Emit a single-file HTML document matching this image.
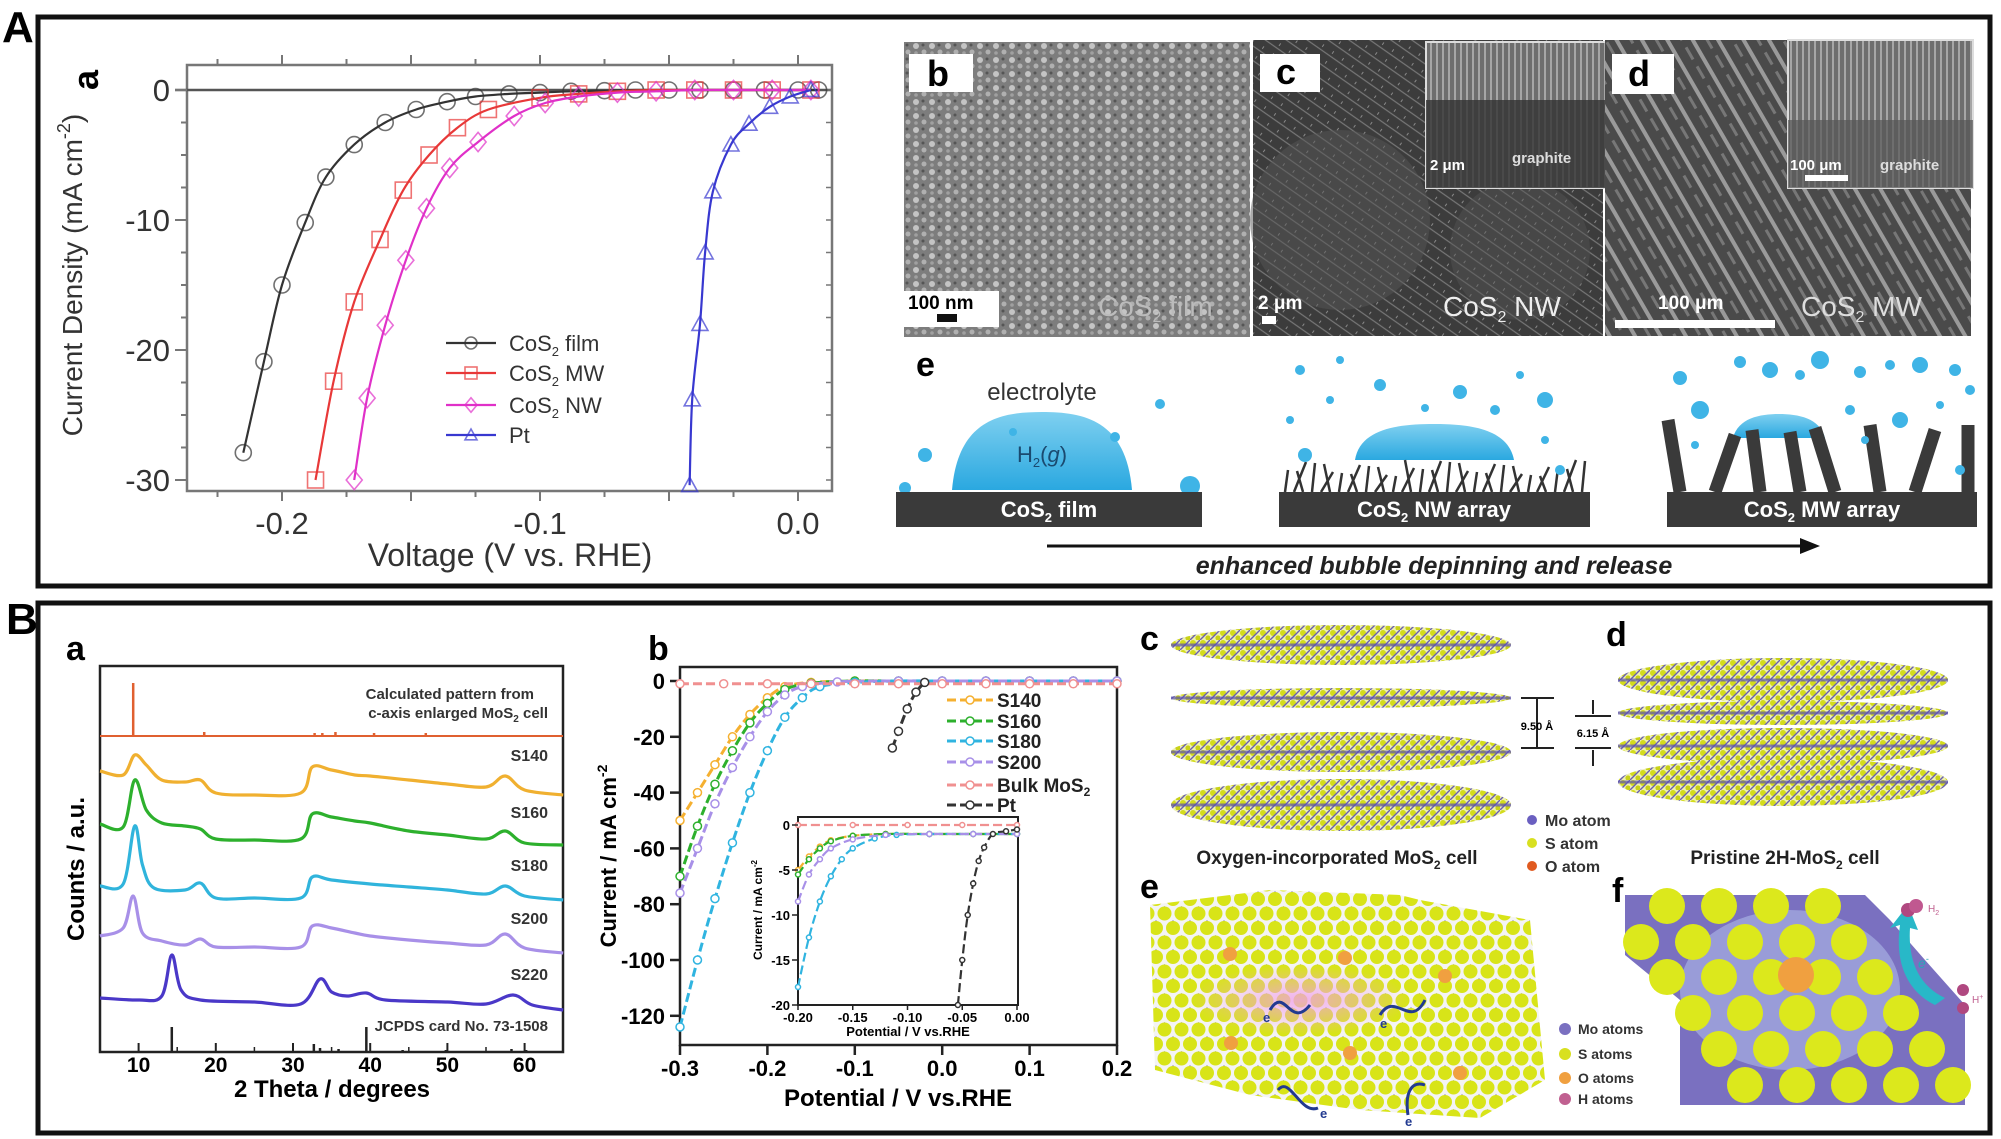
<!DOCTYPE html>
<html><head><meta charset="utf-8"><style>
html,body{margin:0;padding:0;background:#fff;}
svg{display:block;font-family:"Liberation Sans",Arial,sans-serif;}
</style></head><body>
<svg id="fig" xmlns="http://www.w3.org/2000/svg" width="2001" height="1139" viewBox="0 0 2001 1139">
<defs>
<pattern id="semB" width="16" height="14" patternUnits="userSpaceOnUse"><rect width="16" height="14" fill="#7d7d7d"/><circle cx="4" cy="4" r="3" fill="#c4c4c4"/><circle cx="12" cy="10" r="2.5" fill="#b0b0b0"/><circle cx="11" cy="3" r="1.5" fill="#555"/><circle cx="4" cy="11" r="1.8" fill="#a0a0a0"/></pattern>
<pattern id="semC" width="12" height="12" patternUnits="userSpaceOnUse" patternTransform="rotate(35)"><rect width="12" height="12" fill="#3c3c3c"/><line x1="0" y1="3" x2="12" y2="3" stroke="#777" stroke-width="1.2"/><line x1="6" y1="9" x2="6" y2="12" stroke="#8a8a8a" stroke-width="1"/></pattern>
<pattern id="semD" width="22" height="22" patternUnits="userSpaceOnUse" patternTransform="rotate(60)"><rect width="22" height="22" fill="#4a4a4a"/><rect x="0" y="4" width="22" height="4" fill="#9a9a9a"/><rect x="4" y="14" width="14" height="3" fill="#777"/></pattern>
<pattern id="semIn" width="6" height="30" patternUnits="userSpaceOnUse"><rect width="6" height="30" fill="#6e6e6e"/><line x1="3" y1="0" x2="3" y2="30" stroke="#b8b8b8" stroke-width="1.5"/></pattern>
<pattern id="mosL" width="10" height="10" patternUnits="userSpaceOnUse"><rect width="10" height="10" fill="#eef0b0"/><circle cx="3" cy="3" r="3" fill="#d4dc1c"/><circle cx="8" cy="8" r="2.6" fill="#c9d218"/><line x1="0" y1="10" x2="10" y2="0" stroke="#6a5fb0" stroke-width="1.4"/></pattern>
<pattern id="hexE" width="17" height="29" patternUnits="userSpaceOnUse"><rect width="17" height="29" fill="#f4f4f4"/><path d="M8.5 7 L2 14 L15 14Z" fill="#8a80a8"/><path d="M0 21 L6 28 L-6 28Z M17 21 L23 28 L11 28Z" fill="#8a80a8"/><circle cx="0" cy="0" r="7" fill="#d8e418"/><circle cx="17" cy="0" r="7" fill="#d8e418"/><circle cx="8.5" cy="14.5" r="7" fill="#d8e418"/><circle cx="0" cy="29" r="7" fill="#d8e418"/><circle cx="17" cy="29" r="7" fill="#d8e418"/></pattern>
<radialGradient id="pinkGlow"><stop offset="0" stop-color="#f0a0e8" stop-opacity="0.8"/><stop offset="1" stop-color="#f0a0e8" stop-opacity="0"/></radialGradient>
<linearGradient id="drop" x1="0" y1="0" x2="0" y2="1"><stop offset="0" stop-color="#7fd0f0"/><stop offset="1" stop-color="#2aa8e0"/></linearGradient>
</defs>

<!-- panel frames -->
<text x="2" y="42" font-size="44" font-weight="bold">A</text>
<rect x="38" y="17" width="1952" height="569" fill="none" stroke="#111" stroke-width="5"/>
<text x="6" y="634" font-size="44" font-weight="bold">B</text>
<rect x="38" y="603" width="1952" height="530" fill="none" stroke="#111" stroke-width="5"/>

<!-- A-a chart -->
<g id="chartAa">
<text x="76" y="92" font-size="36" font-weight="bold" transform="rotate(-90 86 80)">a</text>
<rect x="187" y="65" width="645" height="426" fill="none" stroke="#777" stroke-width="2.5"/>
<line x1="175" y1="90" x2="832" y2="90" stroke="#555" stroke-width="2.5"/>
<text x="0" y="0" font-size="28" fill="#333" text-anchor="middle" transform="translate(82 275) rotate(-90)">Current Density (mA cm<tspan font-size="18" dy="-12">-2</tspan><tspan dy="12">)</tspan></text>
<text x="510" y="566" font-size="32" fill="#333" text-anchor="middle">Voltage (V vs. RHE)</text>
</g>

<!-- A b-d SEM images -->
<g>
<rect x="904" y="42" width="346" height="295" fill="url(#semB)"/>
<rect x="909" y="54" width="64" height="38" fill="#fff"/>
<text x="927" y="86" font-size="36" font-weight="bold">b</text>
<rect x="904" y="291" width="95" height="36" fill="#fff"/>
<text x="908" y="309" font-size="19" font-weight="bold">100 nm</text>
<rect x="937" y="314" width="20" height="8" fill="#111"/>
<text x="1098" y="316" font-size="28" fill="#bbb">CoS<tspan font-size="16" dy="6">2</tspan><tspan dy="-6"> film</tspan></text>

<rect x="1253" y="40" width="350" height="296" fill="url(#semC)"/>
<circle cx="1340" cy="220" r="90" fill="#555" opacity="0.5"/>
<circle cx="1520" cy="250" r="70" fill="#555" opacity="0.45"/>
<rect x="1426" y="42" width="198" height="146" fill="url(#semIn)" stroke="#ddd" stroke-width="2"/>
<rect x="1426" y="100" width="198" height="88" fill="#333" opacity="0.8"/>
<text x="1430" y="170" font-size="15" font-weight="bold" fill="#fff">2 μm</text>
<text x="1512" y="163" font-size="15" font-weight="bold" fill="#ddd">graphite</text>
<rect x="1260" y="54" width="60" height="38" fill="#fff"/>
<text x="1276" y="84" font-size="36" font-weight="bold">c</text>
<text x="1258" y="309" font-size="19" font-weight="bold" fill="#fff">2 μm</text>
<rect x="1262" y="316" width="14" height="8" fill="#fff"/>
<text x="1443" y="316" font-size="28" fill="#eee">CoS<tspan font-size="16" dy="6">2</tspan><tspan dy="-6"> NW</tspan></text>

<rect x="1605" y="40" width="366" height="296" fill="url(#semD)"/>
<rect x="1788" y="40" width="185" height="148" fill="url(#semIn)" stroke="#ddd" stroke-width="2"/>
<rect x="1788" y="120" width="185" height="68" fill="#555" opacity="0.7"/>
<text x="1790" y="170" font-size="15" font-weight="bold" fill="#fff">100 μm</text>
<text x="1880" y="170" font-size="15" font-weight="bold" fill="#ddd">graphite</text>
<rect x="1805" y="175" width="43" height="6" fill="#fff"/>
<rect x="1612" y="54" width="62" height="40" fill="#fff"/>
<text x="1628" y="86" font-size="36" font-weight="bold">d</text>
<text x="1658" y="309" font-size="19" font-weight="bold" fill="#fff">100 μm</text>
<rect x="1615" y="320" width="160" height="8" fill="#fff"/>
<text x="1801" y="316" font-size="28" fill="#ddd">CoS<tspan font-size="16" dy="6">2</tspan><tspan dy="-6"> MW</tspan></text>
</g>

<!-- A e schematic -->
<g id="schem">
<text x="916" y="376" font-size="34" font-weight="bold">e</text>
<text x="1042" y="400" font-size="24" fill="#333" text-anchor="middle">electrolyte</text>
<path d="M952 490 C958 420 1000 412 1042 412 C1084 412 1126 420 1132 490 Z" fill="url(#drop)"/>
<text x="1042" y="462" font-size="22" fill="#1a4a70" text-anchor="middle">H<tspan font-size="13" dy="5">2</tspan><tspan dy="-5">(</tspan><tspan font-style="italic">g</tspan>)</text>
<path d="M1355 460 C1360 428 1400 424 1434 424 C1468 424 1508 428 1514 460 Z" fill="url(#drop)"/>
<path d="M1733 438 C1738 418 1760 414 1779 414 C1798 414 1820 418 1825 438 Z" fill="url(#drop)"/>
<g id="nwWires" stroke="#333" stroke-width="2.5"></g>
<g id="mwRods" stroke="#3a3a3a" stroke-width="13"></g>
<g id="bubbles" fill="#3fb4e6"></g>
<rect x="896" y="492" width="306" height="35" fill="#3a3a3a"/>
<text x="1049" y="517" font-size="22" font-weight="bold" fill="#fff" text-anchor="middle">CoS<tspan font-size="13" dy="5">2</tspan><tspan dy="-5"> film</tspan></text>
<rect x="1279" y="492" width="311" height="35" fill="#3a3a3a"/>
<text x="1434" y="517" font-size="22" font-weight="bold" fill="#fff" text-anchor="middle">CoS<tspan font-size="13" dy="5">2</tspan><tspan dy="-5"> NW array</tspan></text>
<rect x="1667" y="492" width="310" height="35" fill="#3a3a3a"/>
<text x="1822" y="517" font-size="22" font-weight="bold" fill="#fff" text-anchor="middle">CoS<tspan font-size="13" dy="5">2</tspan><tspan dy="-5"> MW array</tspan></text>
<line x1="1047" y1="546" x2="1805" y2="546" stroke="#111" stroke-width="3"/>
<path d="M1820 546 L1800 538 L1800 554 Z" fill="#111"/>
<text x="1434" y="574" font-size="25" font-weight="bold" font-style="italic" fill="#222" text-anchor="middle">enhanced bubble depinning and release</text>
</g>

<!-- B-a XRD -->
<g id="chartBa">
<text x="66" y="660" font-size="34" font-weight="bold">a</text>
<rect x="100" y="666" width="463" height="386" fill="none" stroke="#222" stroke-width="2.5"/>
<text x="0" y="0" font-size="24" font-weight="bold" text-anchor="middle" transform="translate(84 869) rotate(-90)">Counts / a.u.</text>
<text x="332" y="1097" font-size="24" font-weight="bold" text-anchor="middle">2 Theta / degrees</text>
<text x="534" y="699" font-size="15" font-weight="bold" fill="#333" text-anchor="end">Calculated pattern from</text>
<text x="548" y="718" font-size="15" font-weight="bold" fill="#333" text-anchor="end">c-axis enlarged MoS<tspan font-size="10" dy="4">2</tspan><tspan dy="-4"> cell</tspan></text>
<text x="548" y="1031" font-size="15" font-weight="bold" fill="#333" text-anchor="end">JCPDS card No. 73-1508</text>
</g>

<!-- B-b LSV -->
<g id="chartBb">
<text x="648" y="660" font-size="34" font-weight="bold">b</text>
<rect x="680" y="667" width="437" height="378" fill="none" stroke="#222" stroke-width="2.5"/>
<text x="0" y="0" font-size="22" font-weight="bold" text-anchor="middle" transform="translate(616 856) rotate(-90)">Current / mA cm<tspan font-size="14" dy="-9">-2</tspan></text>
<text x="898" y="1106" font-size="24" font-weight="bold" text-anchor="middle">Potential / V vs.RHE</text>
<rect x="798" y="817" width="220" height="188" fill="#fff" stroke="#222" stroke-width="2"/>
<text x="0" y="0" font-size="12" font-weight="bold" text-anchor="middle" transform="translate(762 910) rotate(-90)">Current / mA cm<tspan font-size="8" dy="-5">-2</tspan></text>
<text x="908" y="1036" font-size="13" font-weight="bold" text-anchor="middle">Potential / V vs.RHE</text>
</g>

<!-- B c-f structures -->
<g id="struct">
<text x="1140" y="650" font-size="34" font-weight="bold">c</text>
<text x="1606" y="646" font-size="34" font-weight="bold">d</text>
<text x="1140" y="898" font-size="34" font-weight="bold">e</text>
<text x="1612" y="902" font-size="34" font-weight="bold">f</text>
<g id="layersC"></g>
<g id="layersD"></g>
<g stroke="#222" stroke-width="2">
<line x1="1521" y1="698" x2="1554" y2="698"/><line x1="1521" y1="748" x2="1554" y2="748"/><line x1="1537" y1="698" x2="1537" y2="748"/>
<line x1="1575" y1="716" x2="1611" y2="716"/><line x1="1575" y1="748" x2="1611" y2="748"/><line x1="1593" y1="700" x2="1593" y2="714"/><line x1="1593" y1="750" x2="1593" y2="766"/>
</g>
<text x="1537" y="730" font-size="11" font-weight="bold" text-anchor="middle">9.50 Å</text>
<text x="1593" y="737" font-size="11" font-weight="bold" text-anchor="middle">6.15 Å</text>
<circle cx="1532" cy="820" r="5" fill="#6a5fc0"/>
<text x="1545" y="826" font-size="16" font-weight="bold" fill="#333">Mo atom</text>
<circle cx="1532" cy="843" r="5" fill="#d8e020"/>
<text x="1545" y="849" font-size="16" font-weight="bold" fill="#333">S atom</text>
<circle cx="1532" cy="866" r="5" fill="#e05a20"/>
<text x="1545" y="872" font-size="16" font-weight="bold" fill="#333">O atom</text>
<text x="1337" y="864" font-size="19" font-weight="bold" fill="#222" text-anchor="middle">Oxygen-incorporated MoS<tspan font-size="12" dy="5">2</tspan><tspan dy="-5"> cell</tspan></text>
<text x="1785" y="864" font-size="19" font-weight="bold" fill="#222" text-anchor="middle">Pristine 2H-MoS<tspan font-size="12" dy="5">2</tspan><tspan dy="-5"> cell</tspan></text>
<path d="M1150 905 L1270 890 L1400 895 L1420 900 L1530 920 L1545 1080 L1480 1118 L1360 1110 L1250 1095 L1155 1070 Z" fill="url(#hexE)"/>
<ellipse cx="1300" cy="1000" rx="110" ry="35" fill="url(#pinkGlow)"/>
<g fill="#f0a040"><circle cx="1230" cy="954" r="7"/><circle cx="1345" cy="958" r="7"/><circle cx="1445" cy="976" r="7"/><circle cx="1231" cy="1043" r="7"/><circle cx="1350" cy="1053" r="7"/><circle cx="1460" cy="1073" r="7"/></g>
<g fill="none" stroke="#223a90" stroke-width="3"><path d="M1270 1010 C1285 985 1290 1030 1310 1005"/><path d="M1380 1015 C1395 990 1410 1030 1425 1000"/><path d="M1278 1090 C1290 1075 1300 1115 1318 1108"/><path d="M1408 1115 C1405 1095 1410 1080 1425 1085"/></g>
<g font-size="13" font-weight="bold" fill="#223a90"><text x="1263" y="1022">e</text><text x="1380" y="1028">e</text><text x="1320" y="1118">e</text><text x="1405" y="1126">e</text></g>
<circle cx="1565" cy="1029" r="6" fill="#7a70c0"/>
<text x="1578" y="1034" font-size="14" font-weight="bold" fill="#333">Mo atoms</text>
<circle cx="1565" cy="1054" r="6" fill="#d8e020"/>
<text x="1578" y="1059" font-size="14" font-weight="bold" fill="#333">S atoms</text>
<circle cx="1565" cy="1078" r="6" fill="#f0a040"/>
<text x="1578" y="1083" font-size="14" font-weight="bold" fill="#333">O atoms</text>
<circle cx="1565" cy="1099" r="6" fill="#c06090"/>
<text x="1578" y="1104" font-size="14" font-weight="bold" fill="#333">H atoms</text>
<g id="latticeF"></g>
<path d="M1935 1005 C1905 990 1895 960 1900 925 L1890 928 L1908 905 L1918 930 L1910 928 C1908 960 1918 985 1945 998 Z" fill="#28b8c8"/>
<text x="1918" y="968" font-size="14" fill="#28a8b8" font-style="italic">e<tspan font-size="9" dy="-6">-</tspan></text>
<circle cx="1908" cy="910" r="7" fill="#b04880"/><circle cx="1916" cy="906" r="7" fill="#c05890"/>
<text x="1928" y="912" font-size="10" fill="#c06090">H<tspan font-size="7" dy="3">2</tspan></text>
<circle cx="1963" cy="990" r="6" fill="#b04880"/><circle cx="1963" cy="1008" r="6" fill="#b04880"/>
<text x="1972" y="1003" font-size="10" fill="#c06090">H<tspan font-size="7" dy="-4">+</tspan></text>
</g>
</svg>
<script>
const NS='http://www.w3.org/2000/svg';
function mk(parent,tag,attrs){const e=document.createElementNS(NS,tag);for(const k in attrs)e.setAttribute(k,attrs[k]);parent.appendChild(e);return e;}
function smooth(pts){let d='M'+pts[0][0].toFixed(1)+' '+pts[0][1].toFixed(1);for(let i=0;i<pts.length-1;i++){const p0=pts[i-1]||pts[i],p1=pts[i],p2=pts[i+1],p3=pts[i+2]||p2;const c1=[p1[0]+(p2[0]-p0[0])/6,p1[1]+(p2[1]-p0[1])/6],c2=[p2[0]-(p3[0]-p1[0])/6,p2[1]-(p3[1]-p1[1])/6];d+=' C'+c1[0].toFixed(1)+' '+c1[1].toFixed(1)+' '+c2[0].toFixed(1)+' '+c2[1].toFixed(1)+' '+p2[0].toFixed(1)+' '+p2[1].toFixed(1);}return d;}

/* ===== A-a data ===== */
const aFilmV=[-0.215,-0.207,-0.2,-0.191,-0.183,-0.172,-0.16,-0.148,-0.136,-0.125,-0.112,-0.1,-0.088,-0.075,-0.063,-0.05,-0.038,-0.025,-0.013,0.0,0.008];
const aFilmJ=[-27.9,-20.9,-15,-10.2,-6.7,-4.2,-2.5,-1.5,-0.9,-0.5,-0.3,-0.2,-0.1,-0.05,0,0,0,0,0,0,0];
const aMwV=[-0.187,-0.18,-0.172,-0.162,-0.153,-0.143,-0.132,-0.12,-0.1,-0.085,-0.07,-0.055,-0.04,-0.025,-0.01,0.005];
const aMwJ=[-30,-22.4,-16.3,-11.5,-7.7,-5,-2.9,-1.5,-0.6,-0.3,-0.1,0,0,0,0,0];
const aNwV=[-0.172,-0.167,-0.16,-0.152,-0.144,-0.135,-0.124,-0.11,-0.098,-0.085,-0.07,-0.055,-0.04,-0.025,-0.01,0.005];
const aNwJ=[-30,-23.7,-18.1,-13.1,-9.1,-6,-4,-2,-1,-0.5,-0.2,-0.1,0,0,0,0];
const aPtV=[-0.042,-0.041,-0.038,-0.036,-0.033,-0.026,-0.019,-0.011,-0.003,0.005];
const aPtJ=[-30.4,-23.8,-18,-12.5,-7.8,-4.2,-2.6,-1.3,-0.5,0];
const aXTicks=[-0.2,-0.1,0.0];
const aXTickLabels=['-0.2','-0.1','0.0'];
const aYTicks=[0,-10,-20,-30];
const aYTickLabels=['0','-10','-20','-30'];
const aSeriesNames=['CoS2 film','CoS2 MW','CoS2 NW','Pt'];

/* ===== B-a XRD data ===== */
const calcPos=[9.3,18.5,27.5,32.8,33.8,35.5,37.5,40.5,47.2,55,59];
const calcInt=[53,4,1,3,3,4,1,3,3,1,1];
const s140T=[5,8,9.5,11,13,16,18,20,25,31,32.5,35,38,40,45,50,55,57.5,60,65];
const s140I=[24,20,40,30,15,13,15,2,0,2,28,25,20,19,15,11,8,19,5,0];
const s160T=[5,8,9.5,11,13,16,18,20,25,31,32.5,35,38,40,45,50,55,57.5,60,65];
const s160I=[21,18,65,35,22,19,16,6,5,6,31,28,24,22,14,10,6,14,2,0];
const s180T=[5,8,9.5,10.5,12,16,18,20,25,31,32.5,35,40,45,50,55,57.5,60,65];
const s180I=[14,16,74,35,12,10,17,2,2,2,23,20,16,13,10,6,14,4,0];
const s200T=[5,8,9.3,10.5,13,16,18,20,25,31,32.5,35,38,40,45,50,55,57.5,60,65];
const s200I=[17,25,57,20,12,8,14,6,6,6,27,25,20,17,13,10,8,19,5,0];
const s220T=[5,10,13,14.3,15.5,18,25,31,33.5,35,37,39.5,42,50,55,58.5,61,65];
const s220I=[12,10,14,55,20,10,8,6,31,18,14,17,10,8,6,15,5,0];
const jcpdsPos=[14.3,32.7,33.5,35.9,39.5,44.2,49.8,58.3,60.2];
const jcpdsInt=[25,8,4,3,25,2,2,3,2];
const xrdTicks=[10,20,30,40,50,60];
const xrdNames=['S140','S160','S180','S200','S220'];

/* ===== B-b LSV data ===== */
const bS140V=[-0.3,-0.28,-0.26,-0.24,-0.22,-0.2,-0.18,-0.15,-0.1,-0.05,0,0.05,0.1,0.15,0.2];
const bS140J=[-50,-40,-30,-20,-12,-6,-2,-0.5,0,0,0,0,0,0,0];
const bS160V=[-0.3,-0.28,-0.26,-0.24,-0.22,-0.2,-0.18,-0.15,-0.1,-0.05,0,0.05,0.1,0.15,0.2];
const bS160J=[-70,-52,-37,-25,-15,-8,-3,-0.8,0,0,0,0,0,0,0];
const bS180V=[-0.3,-0.28,-0.26,-0.24,-0.22,-0.2,-0.18,-0.16,-0.14,-0.1,-0.05,0,0.05,0.1,0.15,0.2];
const bS180J=[-124,-100,-78,-58,-40,-25,-13,-6,-2,-0.5,0,0,0,0,0,0];
const bS200V=[-0.3,-0.28,-0.26,-0.24,-0.22,-0.2,-0.18,-0.16,-0.12,-0.05,0,0.05,0.1,0.15,0.2];
const bS200J=[-76,-60,-44,-31,-20,-11,-5,-2,-0.3,0,0,0,0,0,0];
const bBulkV=[-0.3,-0.25,-0.2,-0.15,-0.1,-0.05,0,0.05,0.1,0.15,0.2];
const bBulkJ=[-1,-1,-1,-1,-1,-1,-1,-1,-1,-1,-1];
const bPtV=[-0.057,-0.05,-0.04,-0.03,-0.02];
const bPtJ=[-24,-18,-10,-4,-0.5];
const bXTicks=[-0.3,-0.2,-0.1,0.0,0.1,0.2];
const bXTickLabels=['-0.3','-0.2','-0.1','0.0','0.1','0.2'];
const bYTicks=[0,-20,-40,-60,-80,-100,-120];
const bNames=['S140','S160','S180','S200','Bulk MoS2','Pt'];
/* inset */
const iS140V=[-0.2,-0.19,-0.18,-0.17,-0.15,-0.12,-0.08,-0.04,0];
const iS140J=[-5,-3.5,-2.4,-1.7,-1.2,-1,-1,-1,-1];
const iS160V=[-0.2,-0.19,-0.18,-0.17,-0.15,-0.12,-0.08,-0.04,0];
const iS160J=[-5.5,-3.8,-2.6,-1.8,-1.2,-1,-1,-1,-1];
const iS180V=[-0.2,-0.19,-0.18,-0.17,-0.16,-0.15,-0.13,-0.11,-0.08,-0.04,0];
const iS180J=[-18,-12.5,-8.5,-5.7,-3.8,-2.6,-1.5,-1.1,-1,-1,-1];
const iS200V=[-0.2,-0.19,-0.18,-0.17,-0.15,-0.12,-0.08,-0.04,0];
const iS200J=[-8.5,-5.5,-3.8,-2.6,-1.6,-1.1,-1,-1,-1];
const iBulkV=[-0.2,-0.15,-0.1,-0.05,0];
const iBulkJ=[0,0,0,0,0];
const iPtV=[-0.054,-0.05,-0.045,-0.04,-0.035,-0.03,-0.022,-0.01,0];
const iPtJ=[-20,-15,-10,-6.5,-4,-2.5,-1,-0.7,-0.5];
const iXTicks=[-0.2,-0.15,-0.1,-0.05,0];
const iXTickLabels=['-0.20','-0.15','-0.10','-0.05','0.00'];
const iYTicks=[0,-5,-10,-15,-20];

/* ---------- A-a ---------- */
(function(){
const g=document.getElementById('chartAa');
const sx=v=>798+v*2580, sy=j=>90-j*13;
for(let v=-0.25;v<=0.01;v+=0.025){const X=sx(v);if(X<187||X>832)continue;const major=Math.abs(Math.round(v*20)-v*20)<1e-6;
 const t=mk(g,'line',{x1:X,y1:65,x2:X,y2:major?55:59,stroke:'#777','stroke-width':2});
 
 
 const b=mk(g,'line',{x1:X,y1:491,x2:X,y2:major?501:497,stroke:'#777','stroke-width':2});
 
 }
for(let j=0;j>=-32.5;j-=2.5){const Y=sy(j);if(Y>491)continue;
 const t=mk(g,'line',{x1:187,y1:Y,x2:j%10===0?175:181,y2:Y,stroke:'#777','stroke-width':2});
 
 
 const r=mk(g,'line',{x1:832,y1:Y,x2:826,y2:Y,stroke:'#777','stroke-width':1.5});
 
 }
aXTicks.forEach((v,i)=>{const t=mk(g,'text',{x:sx(v),y:534,'font-size':31,fill:'#333','text-anchor':'middle'});t.textContent=aXTickLabels[i];
 
 });
aYTicks.forEach((j,i)=>{const t=mk(g,'text',{x:170,y:sy(j)+11,'font-size':31,fill:'#333','text-anchor':'end'});t.textContent=aYTickLabels[i];
 
 });
const series=[[aFilmV,aFilmJ,'#333','circle'],[aMwV,aMwJ,'#e83838','square'],[aNwV,aNwJ,'#e030c8','diamond'],[aPtV,aPtJ,'#3838d0','tri']];
function marker(par,kind,x,y,col,s){let m;
 if(kind==='circle')m=mk(par,'circle',{cx:x,cy:y,r:s,fill:'none',stroke:col,'stroke-width':1.6,opacity:0.7});
 else if(kind==='square')m=mk(par,'rect',{x:x-s,y:y-s,width:2*s,height:2*s,fill:'none',stroke:col,'stroke-width':1.6,opacity:0.7});
 else if(kind==='diamond')m=mk(par,'path',{d:`M${x} ${y-s*1.2}L${x+s} ${y}L${x} ${y+s*1.2}L${x-s} ${y}Z`,fill:'none',stroke:col,'stroke-width':1.6,opacity:0.7});
 else m=mk(par,'path',{d:`M${x} ${y-s}L${x+s} ${y+s*0.8}L${x-s} ${y+s*0.8}Z`,fill:'none',stroke:col,'stroke-width':1.6,opacity:0.7});
 return m;}
series.forEach((s,k)=>{const pts=s[0].map((v,i)=>[sx(v),sy(s[1][i])]);
 const p=mk(g,'path',{d:smooth(pts),fill:'none',stroke:s[2],'stroke-width':2.2});
 
 
 pts.forEach(q=>{const m=marker(g,s[3],q[0],q[1],s[2],8);
  
  });});
const ly=[343,373,405,435];
series.forEach((s,k)=>{const l=mk(g,'line',{x1:446,y1:ly[k],x2:496,y2:ly[k],stroke:s[2],'stroke-width':2.2});
 
 
 const m=marker(g,s[3],471,ly[k],s[2],6);
 
 
 const t=mk(g,'text',{x:509,y:ly[k]+8,'font-size':22,fill:'#333'});
 const nm=aSeriesNames[k];
 if(nm.startsWith('CoS2')){t.innerHTML='CoS<tspan font-size="13" dy="5">2</tspan><tspan dy="-5">'+nm.slice(4)+'</tspan>';}else t.textContent=nm;
 
 });
})();

/* ---------- B-a ---------- */
(function(){
const g=document.getElementById('chartBa');
const sx=t=>100+(t-5)*7.72;
xrdTicks.forEach(t=>{const l=mk(g,'line',{x1:sx(t),y1:1052,x2:sx(t),y2:1043,stroke:'#222','stroke-width':2});
 
 
 const tx=mk(g,'text',{x:sx(t),y:1072,'font-size':21,'font-weight':'bold','text-anchor':'middle'});tx.textContent=t;
 
 });
for(let t=5;t<=65;t+=5){if(t%10===0)continue;const l=mk(g,'line',{x1:sx(t),y1:1052,x2:sx(t),y2:1047,stroke:'#222','stroke-width':1.5});
 
 }
const cb=736;
const base=mk(g,'line',{x1:100,y1:cb,x2:563,y2:cb,stroke:'#e06030','stroke-width':2});


calcPos.forEach((t,i)=>{const l=mk(g,'line',{x1:sx(t),y1:cb,x2:sx(t),y2:cb-calcInt[i],stroke:'#e06030','stroke-width':2.5});
 
 });
jcpdsPos.forEach((t,i)=>{const l=mk(g,'line',{x1:sx(t),y1:1052,x2:sx(t),y2:1052-jcpdsInt[i],stroke:'#222','stroke-width':2.5});
 
 });
const S=[[s140T,s140I,'#f0b030',795],[s160T,s160I,'#2db02d',845],[s180T,s180I,'#30b4dc',900],[s200T,s200I,'#a890e8',953],[s220T,s220I,'#4a38c8',1010]];
const labY=[761,818,871,924,980];
S.forEach((s,k)=>{const pts=s[0].map((t,i)=>[sx(t),s[3]-s[1][i]]);
 const p=mk(g,'path',{d:smooth(pts),fill:'none',stroke:s[2],'stroke-width':3.2,'stroke-linejoin':'round'});
 
 
 const t=mk(g,'text',{x:548,y:labY[k],'font-size':16,'font-weight':'bold',fill:'#333','text-anchor':'end'});t.textContent=xrdNames[k];
 
 });
})();

/* ---------- B-b ---------- */
(function(){
const g=document.getElementById('chartBb');
const sx=v=>680+(v+0.3)*874, sy=j=>681-j*2.79;
bXTicks.forEach((v,i)=>{const l=mk(g,'line',{x1:sx(v),y1:1045,x2:sx(v),y2:1055,stroke:'#222','stroke-width':2.5});
 
 
 const t=mk(g,'text',{x:sx(v),y:1076,'font-size':22,'font-weight':'bold','text-anchor':'middle'});t.textContent=bXTickLabels[i];
 
 });
bYTicks.forEach(j=>{const l=mk(g,'line',{x1:680,y1:sy(j),x2:670,y2:sy(j),stroke:'#222','stroke-width':2.5});
 
 
 const t=mk(g,'text',{x:665,y:sy(j)+8,'font-size':22,'font-weight':'bold','text-anchor':'end'});t.textContent=j;
 
 });
const cols=['#f5b030','#2db02d','#30b4e0','#a890e8','#f09090','#333'];
const S=[[bS140V,bS140J],[bS160V,bS160J],[bS180V,bS180J],[bS200V,bS200J],[bBulkV,bBulkJ],[bPtV,bPtJ]];
function draw(par,data,fx,fy,col,r,w,nm){const pts=data[0].map((v,i)=>[fx(v),fy(data[1][i])]);
 const p=mk(par,'path',{d:smooth(pts),fill:'none',stroke:col,'stroke-width':w,'stroke-dasharray':'9 4'});
 
 
 pts.forEach(q=>{const c=mk(par,'circle',{cx:q[0],cy:q[1],r:r,fill:'#fff',stroke:col,'stroke-width':1.5});
  
  });}
S.forEach((s,k)=>draw(g,s,sx,sy,cols[k],4,3,'lsv-'+k));
const ly=[700,721,741,762,785,805];
bNames.forEach((n,k)=>{const l=mk(g,'line',{x1:947,y1:ly[k],x2:993,y2:ly[k],stroke:cols[k],'stroke-width':3,'stroke-dasharray':'9 4'});
 
 
 const c=mk(g,'circle',{cx:970,cy:ly[k],r:4,fill:'#fff',stroke:cols[k],'stroke-width':1.5});
 
 
 const t=mk(g,'text',{x:997,y:ly[k]+7,'font-size':19,'font-weight':'bold',fill:'#222'});
 if(n==='Bulk MoS2')t.innerHTML='Bulk MoS<tspan font-size="12" dy="4">2</tspan>';else t.textContent=n;
 
 });
/* inset */
const ix=v=>798+(v+0.2)*1095, iy=j=>825-j*9;
const I=[[iS140V,iS140J],[iS160V,iS160J],[iS180V,iS180J],[iS200V,iS200J],[iBulkV,iBulkJ],[iPtV,iPtJ]];
I.forEach((s,k)=>draw(g,s,ix,iy,cols[k],2.5,2.2,'inset-'+k));
iXTicks.forEach((v,i)=>{const l=mk(g,'line',{x1:ix(v),y1:1005,x2:ix(v),y2:1010,stroke:'#222','stroke-width':1.5});
 
 
 const t=mk(g,'text',{x:ix(v),y:1022,'font-size':13,'font-weight':'bold','text-anchor':'middle'});t.textContent=iXTickLabels[i];
 
 });
iYTicks.forEach(j=>{const l=mk(g,'line',{x1:798,y1:iy(j),x2:792,y2:iy(j),stroke:'#222','stroke-width':1.5});
 
 
 const t=mk(g,'text',{x:790,y:iy(j)+5,'font-size':13,'font-weight':'bold','text-anchor':'end'});t.textContent=j;
 
 });
})();

/* ---------- schematic decorations ---------- */
(function(){
const w=document.getElementById('nwWires');
for(let x=1285;x<1585;x+=9){const l=mk(w,'line',{x1:x,y1:492,x2:x+((x%27)-13),y2:460+(x%17)});
 
 }
const r=document.getElementById('mwRods');
const rods=[[1680,492,1668,420],[1715,492,1735,435],[1760,492,1752,430],[1800,492,1790,432],[1835,492,1815,428],[1880,492,1870,425],[1915,492,1935,430],[1968,492,1968,425]];
rods.forEach(q=>{const l=mk(r,'line',{x1:q[0],y1:q[1],x2:q[2],y2:q[3]});
 
 });
const b=document.getElementById('bubbles');
const bub=[[925,455,7],[1013,432,4],[1115,437,5],[905,488,6],[1190,486,10],[1160,404,5],[1300,370,5],[1340,360,4],[1380,385,6],[1425,408,4],[1460,392,7],[1495,410,5],[1520,375,4],[1545,400,8],[1305,455,7],[1560,470,5],[1290,420,4],[1330,400,4],[1545,440,4],[1680,378,7],[1700,410,9],[1740,362,6],[1770,370,8],[1800,375,5],[1820,360,9],[1860,372,6],[1890,365,5],[1920,365,8],[1955,370,6],[1970,390,5],[1695,445,4],[1850,410,5],[1900,420,8],[1940,405,4],[1865,440,4],[1960,470,5]];
bub.forEach(q=>{const c=mk(b,'circle',{cx:q[0],cy:q[1],r:q[2]});
 
 });
/* MoS2 layers c & d */
const lc=document.getElementById('layersC');
[[1341,645,170,20],[1341,698,170,10],[1341,752,170,20],[1341,805,170,26]].forEach(q=>{
 const e=mk(lc,'ellipse',{cx:q[0],cy:q[1],rx:q[2],ry:q[3],fill:'url(#mosL)'});
 
 
 const l=mk(lc,'line',{x1:q[0]-q[2],y1:q[1],x2:q[0]+q[2],y2:q[1],stroke:'#5a50b0','stroke-width':3,opacity:0.7});
 
 });
const ld=document.getElementById('layersD');
[[1783,680,165,22],[1783,713,165,12],[1783,746,165,18],[1783,782,165,24]].forEach(q=>{
 const e=mk(ld,'ellipse',{cx:q[0],cy:q[1],rx:q[2],ry:q[3],fill:'url(#mosL)'});
 
 
 const l=mk(ld,'line',{x1:q[0]-q[2],y1:q[1],x2:q[0]+q[2],y2:q[1],stroke:'#5a50b0','stroke-width':3,opacity:0.7});
 
 });
/* lattice f */
const f=document.getElementById('latticeF');
const bg=mk(f,'path',{d:'M1625 895 L1865 895 L1890 920 L1925 960 L1965 1005 L1965 1105 L1680 1105 L1680 1000 L1625 955 Z',fill:'#7a70c0'});


const glow=mk(f,'ellipse',{cx:1790,cy:990,rx:110,ry:80,fill:'#b8c8f0',opacity:0.5});


const rowsY=[906,942,977,1013,1049,1085];
const rowMin=[1640,1615,1640,1690,1690,1700];
const rowMax=[1850,1875,1900,1945,1955,1955];
rowsY.forEach((y,ri)=>{const off=ri%2?0:26;for(let x=1589+off;x<1960;x+=52){if(x<rowMin[ri]||x>rowMax[ri])continue;
 const c=mk(f,'circle',{cx:x,cy:y,r:18,fill:'#dce81c'});
 
 }});
const o=mk(f,'circle',{cx:1796,cy:975,r:18,fill:'#f0a040'});


})();
</script>
</body></html>
